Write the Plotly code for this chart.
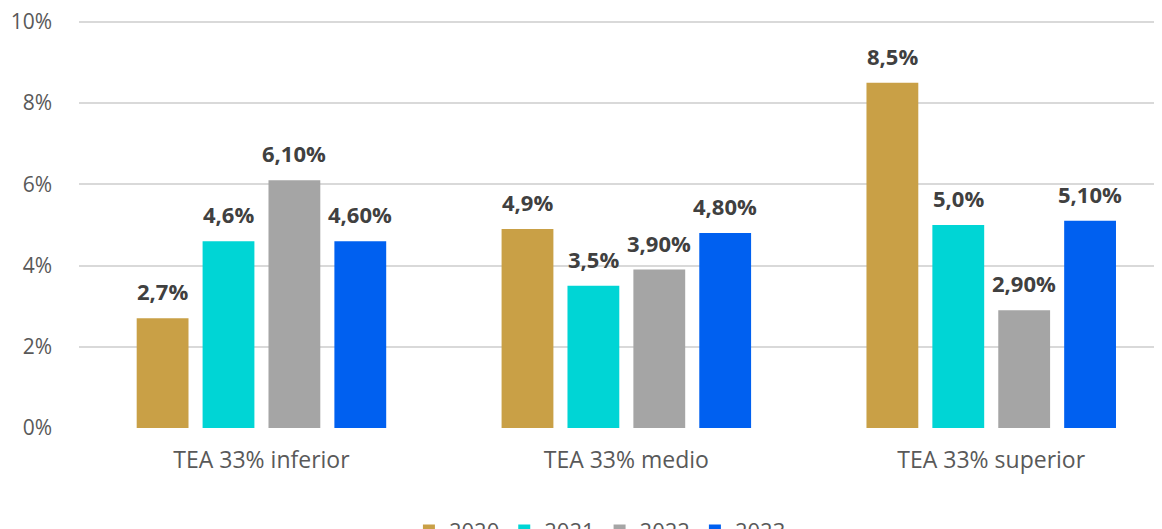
import plotly.graph_objects as go

categories = ["TEA 33% inferior", "TEA 33% medio", "TEA 33% superior"]
years = ["2020", "2021", "2022", "2023"]
values = {
    "2020": [2.7, 4.9, 8.5],
    "2021": [4.6, 3.5, 5.0],
    "2022": [6.1, 3.9, 2.9],
    "2023": [4.6, 4.8, 5.1],
}
labels = {
    "2020": ["2,7%", "4,9%", "8,5%"],
    "2021": ["4,6%", "3,5%", "5,0%"],
    "2022": ["6,10%", "3,90%", "2,90%"],
    "2023": ["4,60%", "4,80%", "5,10%"],
}
colors = {"2020": "#C9A046", "2021": "#00D5D5", "2022": "#A5A5A5", "2023": "#0060F0"}
tick_vals = [0, 2, 4, 6, 8, 10]
tick_text = ["0%", "2%", "4%", "6%", "8%", "10%"]

FONT = "Open Sans"
bar_w = 0.142
pitch = 0.1806
offsets = [(-1.5 + j) * pitch for j in range(4)]

fig = go.Figure()
annotations = []
for j, yr in enumerate(years):
    xs = [i + offsets[j] for i in range(len(categories))]
    fig.add_trace(go.Bar(
        name=yr, x=xs, y=values[yr], width=bar_w,
        marker=dict(color=colors[yr], line=dict(width=0)),
    ))
    for x, v, t in zip(xs, values[yr], labels[yr]):
        annotations.append(dict(
            x=x, y=v, text="<b>" + t + "</b>", showarrow=False,
            yshift=27, font=dict(family=FONT, size=22, color="#404040"),
        ))

# page body has an 8px margin, so the figure is 8px smaller than the window
fig.update_layout(
    width=1154, height=521,
    margin=dict(l=71, r=0, t=11, b=101),
    barmode="overlay",
    paper_bgcolor="white", plot_bgcolor="white",
    annotations=annotations,
    showlegend=True,
    legend=dict(orientation="h", x=0.481, xanchor="center",
                yref="container", y=0.037, yanchor="top",
                font=dict(family=FONT, size=22, color="#595959"),
                itemwidth=30, traceorder="normal", tracegroupgap=0),
    font=dict(family=FONT, color="#595959"),
)
fig.update_xaxes(
    range=[-0.5, 2.468], tickvals=list(range(len(categories))), ticktext=categories,
    showgrid=False, zeroline=False, showline=False, ticks="", automargin=False,
    tickfont=dict(family=FONT, size=23, color="#595959"), ticklabelstandoff=16,
)
fig.update_yaxes(
    range=[0, 10.07], tickvals=tick_vals, ticktext=tick_text, automargin=False,
    ticklabeloverflow="allow",
    showgrid=True, gridcolor="#D9D9D9", gridwidth=2, zeroline=False,
    tickfont=dict(family=FONT, size=21, color="#595959"), ticklabelstandoff=26,
)
fig.write_html("out.html")
